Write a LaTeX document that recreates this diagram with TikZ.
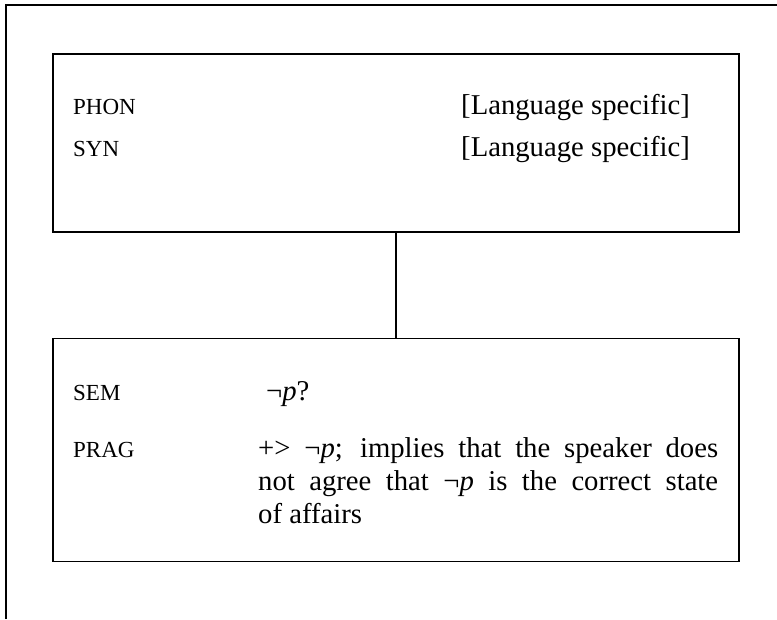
\documentclass[tikz,border=0pt]{standalone}
\usepackage{fontspec}
\setmainfont{Liberation Serif}

\tikzset{
  avmbox/.style={draw, line width=1.3pt, minimum width=686pt, inner sep=0pt},
  featname/.style={anchor=base west, inner sep=0pt, font=\fontsize{23}{28}\selectfont},
  featval/.style={anchor=base west, inner sep=0pt, font=\fontsize{28.7}{33}\selectfont},
}

\begin{document}
\begin{tikzpicture}[x=1pt, y=-1pt]
  \useasboundingbox (0,0) rectangle (777,619);
  % outer frame, only its top and left edges are in view
  \draw[line width=2pt] (6,619) -- (6,5) -- (777,5);

  % form part and meaning part
  \node[avmbox, minimum height=178pt] (form) at (396,143) {};
  \node[avmbox, minimum height=223pt] (meaning) at (396,450) {};
  \draw[line width=1.3pt] (form.south) -- (meaning.north);

  \node[featname] (phon) at (73,114) {PHON};
  \node[featval] (phonval) at (461,114) {[Language specific]};
  \node[featname] (syn) at (73,156) {SYN};
  \node[featval] (synval) at (461,156) {[Language specific]};

  \node[featname] (sem) at (73,400) {SEM};
  \node[featval] (semval) at (266,400) {¬\textit{p}?};
  \node[featname] (prag) at (73,457) {PRAG};
  \node[featval, anchor=north west, text width=460pt, align=justify] (pragval) at (258,437.4)
    {+> ¬\textit{p}; implies that the speaker does\linebreak
     not agree that ¬\textit{p} is the correct state\linebreak
     of affairs};
\end{tikzpicture}
\end{document}
